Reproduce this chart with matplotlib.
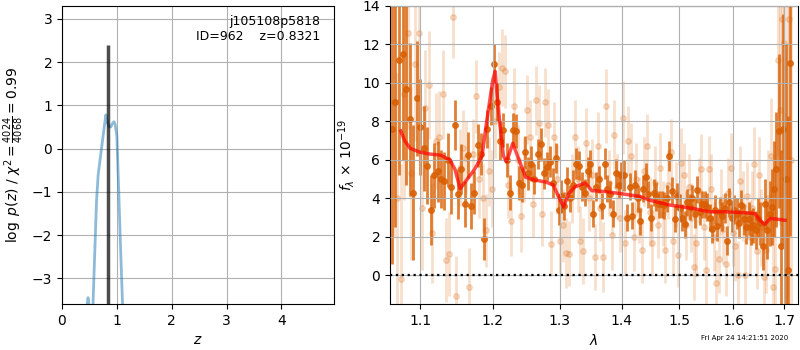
import numpy as np
import matplotlib
matplotlib.use('Agg')
import matplotlib.pyplot as plt
from matplotlib.ticker import NullLocator

# redshift probability curve
z_grid = [0.44, 0.46, 0.475, 0.49, 0.51, 0.56, 0.60, 0.63, 0.66, 0.70, 0.74,
          0.78, 0.80, 0.83, 0.86, 0.89, 0.92, 0.95, 0.97, 1.00, 1.03, 1.06,
          1.09, 1.11, 1.14]
logp = [-4.0, -3.6, -3.45, -3.6, -4.0, -3.8, -2.3, -1.2, -0.6, -0.2, 0.2,
        0.6, 0.78, 0.6, 0.5, 0.5, 0.58, 0.62, 0.55, 0.3, -0.8, -2.0,
        -3.1, -3.8, -4.5]
z_best = 0.8321
pz_peak = 2.4

# 1D binned spectrum (dark points), wavelength in micron, flux in 1e-19
wave0_1d, dwave = 1.0635, 0.0046
flux_1d = [
    7.6, 9.0, 11.2, 11.5, 9.7, 8.1, 4.3, 9.2, 7.7, 6.6,
    5.7, 3.4, 5.2, 5.4, 5.0, 4.9, 6.0, 4.6, 7.8, 4.2,
    5.5, 3.7, 6.25, 3.6, 4.3, 6.75, 6.3, 1.9, 7.6, 8.8,
    11.0, 9.0, 7.0, 7.55, 6.0, 4.3, 7.55, 7.5, 4.8, 4.7,
    6.4, 5.3, 5.8, 5.0, 6.3, 6.8, 5.3, 5.65, 5.9, 4.8,
    6.1, 3.4, 4.1, 3.6, 4.9, 4.0, 4.7, 5.8, 5.7, 4.6,
    4.3, 5.4, 5.8, 3.2, 4.6, 5.0, 3.6, 5.8, 4.5, 4.2,
    3.2, 5.3, 4.7, 5.2, 5.2, 3.0, 4.6, 3.1, 4.7, 4.0,
    2.8, 4.5, 5.1, 4.2, 3.0, 4.3, 4.1, 3.7, 3.7, 3.65,
    4.0, 6.2, 4.4, 2.95, 4.1, 3.5, 3.0, 2.65, 3.8, 3.55,
    4.0, 3.2, 4.45, 3.3, 3.7, 3.7, 3.55, 3.0, 2.4, 3.4,
    2.55, 3.3, 3.07, 3.5, 1.8, 3.8, 3.0, 3.4, 3.2, 2.7,
    3.65, 2.9, 2.5, 2.95, 2.5, 2.6, 2.35, 3.0, 2.7, 1.5,
    3.7, 2.35, 3.2, 3.55, 4.5, 5.5, 7.5, 1.5, 7.6, 5.0,
    0.26, 11.05]
err_1d = [
    7.0, 6.5, 6.0, 5.5, 5.0, 4.0, 3.5, 3.0, 2.5, 2.2,
    2.0, 1.8, 1.7, 1.6, 1.5, 1.5, 1.4, 1.4, 1.3, 1.3,
    1.3, 1.2, 1.2, 1.2, 1.1, 1.1, 1.1, 1.1, 1.0, 1.0,
    1.0, 1.0, 1.0, 0.9, 0.9, 0.9, 0.9, 0.9, 0.9, 0.9,
    0.85, 0.85, 0.9, 0.8, 0.8, 0.85, 0.8, 0.75, 0.8, 0.8,
    0.8, 0.8, 0.85, 0.75, 0.75, 0.7, 0.75, 0.8, 0.75, 0.75,
    0.7, 0.75, 0.7, 0.7, 0.75, 0.7, 0.7, 0.8, 0.7, 0.7,
    0.7, 0.75, 0.7, 0.7, 0.8, 0.7, 0.7, 0.7, 0.75, 0.7,
    0.7, 0.7, 0.75, 0.7, 0.7, 0.7, 0.75, 0.7, 0.7, 0.7,
    0.7, 0.8, 0.7, 0.7, 0.7, 0.75, 0.7, 0.7, 0.7, 0.7,
    0.7, 0.75, 0.7, 0.7, 0.7, 0.7, 0.75, 0.7, 0.7, 0.75,
    0.75, 0.75, 0.75, 0.8, 0.75, 0.75, 0.75, 0.75, 0.8, 0.75,
    0.8, 0.8, 0.85, 0.85, 0.9, 0.9, 1.0, 1.0, 1.1, 1.2,
    1.3, 1.5, 1.7, 2.0, 2.5, 3.0, 4.0, 5.0, 6.0, 7.0,
    8.0, 9.0]

# unbinned beam spectrum (light points)
wave0_beam = 1.0658
flux_beam = [
    9.0, 4.0, -0.2, 9.4, 12.6, 5.3, 11.0, 12.6, 3.5, 8.7,
    9.9, 2.2, 7.0, 7.2, 9.4, 0.8, 1.1, 13.4, -1.1, 5.6,
    6.6, 6.1, -0.6, 6.3, 9.3, 5.0, 4.0, 2.35, 5.4, 4.5,
    8.0, 9.8, 10.8, 10.6, 4.7, 2.8, 8.8, 6.0, 3.1, 5.5,
    8.6, 7.2, 3.7, 9.1, 7.9, 3.2, 9.0, 7.8, 1.65, 7.2,
    5.0, 1.8, 2.6, 1.16, 1.13, 4.5, 7.2, 5.0, 1.8, 1.27,
    6.9, 4.0, 5.2, 0.95, 6.7, 3.5, 0.95, 8.8, 4.8, 2.1,
    7.3, 4.6, 3.0, 8.2, 1.7, 7.0, 6.2, 2.0, 5.0, 3.4,
    1.3, 5.4, 6.7, 3.3, 1.7, 4.8, 2.6, 5.6, 3.2, 1.3,
    4.7, 6.4, 1.8, 4.2, 1.08, 5.85, 5.2, 2.6, 4.6, 3.0,
    0.43, 1.7, 4.4, 5.55, 2.5, 0.26, 5.55, 4.5, 2.0, -0.4,
    0.87, 3.8, 2.4, 0.6, 4.3, 5.6, 2.2, 1.5, 0.0, 4.9,
    3.6, 0.0, 4.1, 2.0, 3.5, 5.8, 1.27, 5.2, 2.5, -0.1,
    1.3, 4.0, 6.2, -0.6, 0.35, 11.2, 8.6, 13.3, 12.1, 5.0,
    13.3, 6.0]
err_beam = [
    7.0, 6.5, 6.0, 5.5, 5.0, 4.5, 4.0, 3.5, 3.2, 3.0,
    2.8, 2.6, 2.5, 2.4, 2.3, 2.2, 2.2, 2.1, 2.1, 2.0,
    2.0, 1.9, 2.0, 1.8, 1.9, 2.0, 1.8, 1.9, 1.8, 2.0,
    1.9, 1.8, 2.0, 1.9, 1.7, 1.8, 2.0, 1.8, 1.9, 1.7,
    1.8, 1.9, 1.7, 1.8, 2.0, 1.7, 1.8, 1.9, 1.7, 1.8,
    1.8, 1.7, 1.9, 1.8, 1.7, 1.8, 1.9, 1.7, 1.8, 1.7,
    1.8, 1.7, 1.9, 1.7, 1.8, 1.7, 1.8, 1.9, 1.7, 1.8,
    1.8, 1.7, 1.8, 1.9, 1.7, 1.8, 1.7, 1.8, 1.9, 1.7,
    1.7, 1.8, 1.7, 1.8, 1.7, 1.9, 1.7, 1.8, 1.7, 1.7,
    1.8, 1.7, 1.8, 1.7, 1.7, 1.8, 1.7, 1.8, 1.7, 1.8,
    1.7, 1.8, 1.7, 1.8, 1.7, 1.8, 1.7, 1.8, 1.8, 1.7,
    1.8, 1.7, 1.8, 1.7, 1.8, 1.8, 1.7, 1.8, 1.8, 1.8,
    1.8, 1.9, 1.8, 1.9, 1.9, 1.9, 2.0, 2.0, 2.0, 2.1,
    2.2, 2.5, 3.0, 3.5, 4.0, 5.0, 6.0, 7.0, 8.0, 9.0,
    10.0, 10.0]

# best-fit model
model_wave = [1.075, 1.080, 1.087, 1.100, 1.113, 1.127, 1.140, 1.147, 1.154,
              1.163, 1.174, 1.1846, 1.1913, 1.200, 1.2034, 1.208, 1.2153,
              1.220, 1.229, 1.236, 1.248, 1.262, 1.278, 1.290, 1.298, 1.306,
              1.314, 1.324, 1.340, 1.351, 1.373, 1.397, 1.431, 1.448, 1.483,
              1.519, 1.556, 1.584, 1.623, 1.642, 1.652, 1.661, 1.672, 1.682,
              1.702]
model_flux = [7.5, 7.0, 6.6, 6.4, 6.3, 6.25, 6.0, 5.5, 4.5,
              4.95, 5.5, 6.2, 8.0, 10.15, 10.6, 8.6, 6.2,
              5.9, 6.86, 6.2, 5.1, 4.95, 4.85, 4.7, 4.1, 3.55,
              4.25, 4.6, 4.8, 4.4, 4.35, 4.25, 4.1, 3.9, 3.65,
              3.5, 3.3, 3.3, 3.25, 3.2, 2.85, 2.65, 2.95, 2.93,
              2.86]

wave_1d = wave0_1d + dwave * np.arange(len(flux_1d))
wave_beam = wave0_beam + dwave * np.arange(len(flux_beam))

orange = '#d95f02'

fig = plt.figure(figsize=(8, 3.5), dpi=100)
ax1 = fig.add_axes([0.0775, 0.131, 0.340, 0.852])
ax2 = fig.add_axes([0.4875, 0.131, 0.510, 0.852])

# p(z) panel
ax1.plot(z_grid, logp, color='tab:blue', alpha=0.5, lw=2)
ax1.vlines(z_best, -3.6, pz_peak, color='k', alpha=0.7, lw=2.5)
ax1.set_xlim(0, 4.96)
ax1.set_ylim(-3.6, 3.3)
ax1.set_xticks([0, 1, 2, 3, 4])
ax1.set_yticks([-3, -2, -1, 0, 1, 2, 3])
ax1.grid()
ax1.set_xlabel(r'$z$')
ax1.set_ylabel(r'$\log\ p(z)$' + ' / ' + r'$\chi^2=\frac{4024}{4068}=0.99$')
ax1.text(0.95, 0.97, 'j105108p5818\nID=962    z=0.8321', ha='right',
         va='top', transform=ax1.transAxes, fontsize=9)

# spectrum panel
ax2.errorbar(wave_beam, flux_beam, yerr=err_beam, color=orange, alpha=0.2,
             marker='o', ms=4, linestyle='none', elinewidth=2, zorder=1)
ax2.errorbar(wave_1d, flux_1d, yerr=err_1d, color=orange, alpha=0.8,
             marker='o', ms=4, linestyle='none', elinewidth=2, zorder=2)
ax2.plot(model_wave, model_flux, color='r', alpha=0.7, lw=2.5, zorder=3)

ax2.set_xscale('log')
xl = (1.0612, 1.7285)
ax2.plot(xl, [0, 0], 'k:', lw=1.6, zorder=4)
ax2.set_xlim(xl)
ax2.set_ylim(-1.5, 14)
xt = [1.1, 1.2, 1.3, 1.4, 1.5, 1.6, 1.7]
ax2.set_xticks(xt)
ax2.set_xticklabels(['%.1f' % v for v in xt])
ax2.xaxis.set_minor_locator(NullLocator())
ax2.set_yticks(range(0, 15, 2))
ax2.set_axisbelow(False)
ax2.grid()
ax2.set_xlabel(r'$\lambda$')
ax2.set_ylabel(r'$f_\lambda\,\times\,10^{-19}$')

fig.text(0.985, 0.025, 'Fri Apr 24 14:21:51 2020', ha='right', va='bottom',
         fontsize=5)

fig.savefig('out.png', dpi=100)
